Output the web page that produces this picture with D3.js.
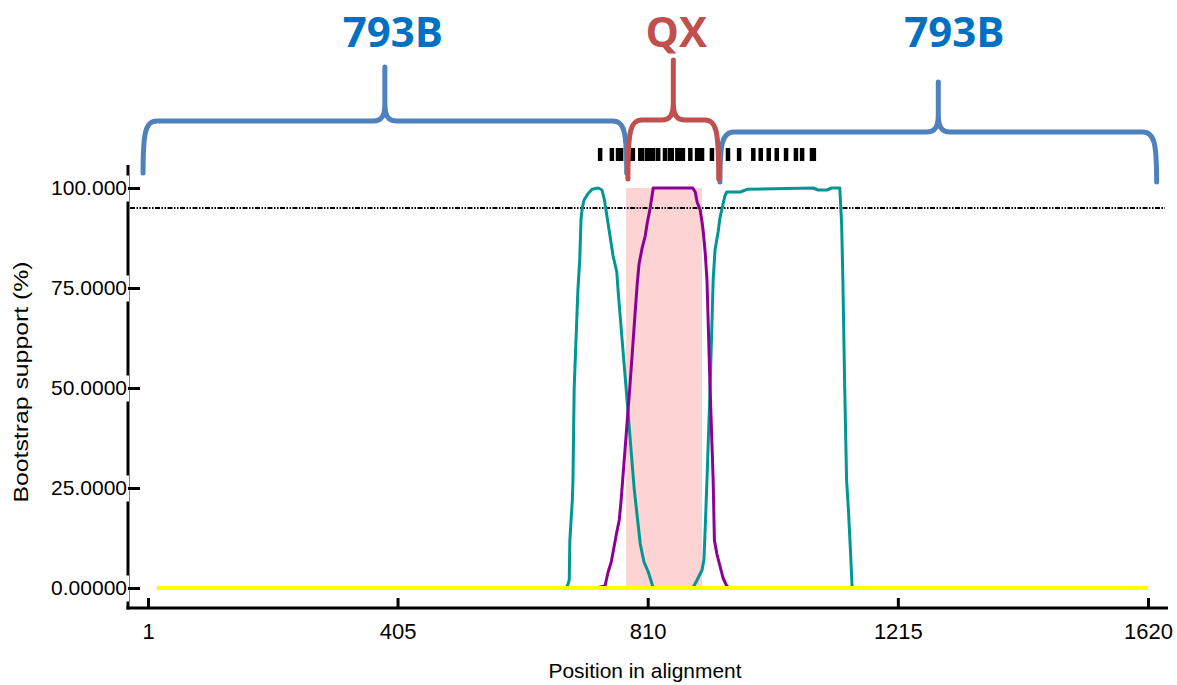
<!DOCTYPE html>
<html>
<head>
<meta charset="utf-8">
<script src="https://cdn.jsdelivr.net/npm/d3@7"></script>
<style>
  body { margin: 0; background: #fff; }
  svg { display: block; }
</style>
</head>
<body>
<script>
// axis ticks
var xTicks = [1, 405, 810, 1215, 1620];
var xTickLabels = ["1", "405", "810", "1215", "1620"];
var yTicks = [0, 25, 50, 75, 100];
var yTickLabels = ["0.00000", "25.0000", "50.0000", "75.0000", "100.000"];

// bootstrap support series (position in alignment, % support)
var tealPos = [17, 679, 683, 684, 688, 689, 691, 697, 700, 702, 704, 707, 713, 720, 730, 736, 740, 744, 749, 754, 760, 762, 775, 788, 793, 798, 804, 811, 819,
               883, 890, 898, 901, 903, 906, 911, 916, 919, 924, 927, 932, 935, 938, 960, 972, 1078, 1086, 1100, 1108, 1121, 1124, 1126, 1129, 1132, 1135, 1139, 1141, 1620];
var tealVal = [0, 0, 2, 12, 22, 27, 50, 74.5, 82, 92, 95, 97, 98.5, 99.7, 100, 99.5, 97, 93, 88, 83, 79, 74.5, 50, 25, 18, 11, 6.5, 4, 0,
               0, 2, 4.5, 7, 14.5, 27, 50, 77, 84.5, 89, 92.5, 96, 98, 99, 99, 99.7, 100, 99.5, 99.5, 100, 100, 91, 77, 50, 27, 19.5, 7, 0, 0];

var purplePos = [17, 726, 741, 743, 746, 751, 754, 757, 760, 764, 767, 769, 781, 793, 796, 801, 806, 809, 814, 819,
                 883, 887, 890, 895, 898, 900, 903, 906, 911, 916, 918, 922, 927, 932, 938, 942, 1620];
var purpleVal = [0, 0, 0.5, 2, 4, 6.5, 9, 11.5, 14, 17, 22, 26, 50, 76, 81, 85, 88, 91, 95, 100,
                 100, 99, 96.5, 94.5, 91.5, 89, 84, 77, 50, 27, 12, 8.5, 5.5, 2.5, 0.5, 0, 0];

var yellowPos = [17, 1620];
var yellowVal = [0, 0];

// cut-off and recombinant region
var threshold = 95;
var shadeStart = 775, shadeEnd = 898;

// informative sites shown above the plot
var sites = [733, 752, 762, 767, 781, 786, 798, 801, 809, 812, 819, 827, 838, 846, 849, 858, 861, 867, 879, 890, 892, 898,
             914, 940, 958, 981, 993, 1006, 1019, 1034, 1050, 1060, 1076, 1079];

// brace regions
var regionNames = ["793B", "QX", "793B"];
var regionStart = [-7, 778, 927];
var regionEnd = [776, 925, 1634];

var W = 1177, H = 685;
var svg = d3.select("body").append("svg").attr("width", W).attr("height", H);

var x = d3.scaleLinear().domain([1, 1620]).range([148, 1148]);
var y = d3.scaleLinear().domain([0, 100]).range([588, 188]);

// shaded region
svg.append("rect")
  .attr("x", x(shadeStart)).attr("y", y(100))
  .attr("width", x(shadeEnd) - x(shadeStart))
  .attr("height", y(0) - y(100))
  .attr("fill", "#fdd3d3");

// threshold line
svg.append("line")
  .attr("x1", 130).attr("x2", 1165)
  .attr("y1", y(threshold)).attr("y2", y(threshold))
  .attr("stroke", "#000").attr("stroke-width", 1.8)
  .attr("stroke-dasharray", "5,1.5,1.5,1.5,1.5,1.5");

var line = d3.line().x(function(d){ return x(d[0]); }).y(function(d){ return y(d[1]); });
function series(pos, val, color, w){
  svg.append("path")
    .datum(pos.map(function(p, i){ return [p, val[i]]; }))
    .attr("d", line)
    .attr("fill", "none")
    .attr("stroke", color)
    .attr("stroke-width", w)
    .attr("stroke-linejoin", "round");
}
series(tealPos, tealVal, "#009693", 3);
series(purplePos, purpleVal, "#8c0096", 3);
series(yellowPos, yellowVal, "#ffff00", 4);

// axis lines
svg.append("line").attr("x1", 128).attr("x2", 128).attr("y1", 165).attr("y2", 609.5)
  .attr("stroke", "#000").attr("stroke-width", 3);
svg.append("line").attr("x1", 126.5).attr("x2", 1168).attr("y1", 608).attr("y2", 608)
  .attr("stroke", "#000").attr("stroke-width", 3);

var yAxis = svg.append("g")
  .attr("transform", "translate(128,0)")
  .call(d3.axisLeft(y).tickValues(yTicks)
    .tickFormat(function(d, i){ return yTickLabels[i]; })
    .tickSizeInner(-12).tickSizeOuter(0).tickPadding(1));
yAxis.select(".domain").remove();
yAxis.selectAll(".tick").insert("rect", ":first-child")
  .attr("x", -80).attr("y", -13).attr("width", 81).attr("height", 26).attr("fill", "#fff");
yAxis.selectAll(".tick line").attr("stroke", "#000").attr("stroke-width", 3);
yAxis.selectAll(".tick text")
  .attr("font-family", "Liberation Sans, Arial, sans-serif")
  .attr("font-size", 21).attr("fill", "#000");

var xAxis = svg.append("g")
  .attr("transform", "translate(0,608)")
  .call(d3.axisBottom(x).tickValues(xTicks)
    .tickFormat(function(d, i){ return xTickLabels[i]; })
    .tickSizeInner(-10).tickSizeOuter(0).tickPadding(15));
xAxis.select(".domain").remove();
xAxis.selectAll(".tick line").attr("stroke", "#000").attr("stroke-width", 3);
xAxis.selectAll(".tick text")
  .attr("font-family", "Liberation Sans, Arial, sans-serif")
  .attr("font-size", 22).attr("fill", "#000");

// axis titles
svg.append("text")
  .attr("x", 645).attr("y", 678)
  .attr("text-anchor", "middle")
  .attr("font-family", "Liberation Sans, Arial, sans-serif")
  .attr("font-size", 21)
  .attr("textLength", 193).attr("lengthAdjust", "spacingAndGlyphs")
  .text("Position in alignment");
svg.append("text")
  .attr("transform", "translate(28,382) rotate(-90)")
  .attr("text-anchor", "middle")
  .attr("font-family", "Liberation Sans, Arial, sans-serif")
  .attr("font-size", 21)
  .attr("textLength", 241).attr("lengthAdjust", "spacingAndGlyphs")
  .text("Bootstrap support (%)");

// site marks
svg.selectAll("line.site")
  .data(sites)
  .enter().append("line")
  .attr("class", "site")
  .attr("x1", function(d){ return x(d); })
  .attr("x2", function(d){ return x(d); })
  .attr("y1", 148).attr("y2", 161)
  .attr("stroke", "#000").attr("stroke-width", 4.5);

// braces
var braceLayout = [
  {yh: 121, yt: 67, yb: 173, color: "#4f81bd", text: "#0070c0", dx: 8},
  {yh: 120, yt: 60, yb: 179, color: "#c0504d", text: "#c0504d", dx: 3},
  {yh: 132, yt: 82, yb: 182, color: "#4f81bd", text: "#0070c0", dx: 16}
];
function bracePath(xl, xr, L){
  var xc = (xl + xr) / 2, yh = L.yh;
  return "M" + xl + "," + L.yb +
    " C" + xl + "," + (yh + 12) + " " + (xl + 2) + "," + yh + " " + (xl + 14) + "," + yh +
    " L" + (xc - 12) + "," + yh +
    " C" + (xc - 3) + "," + yh + " " + xc + "," + (yh - 5) + " " + xc + "," + (yh - 18) +
    " L" + xc + "," + L.yt +
    " M" + xc + "," + (yh - 18) +
    " C" + xc + "," + (yh - 5) + " " + (xc + 3) + "," + yh + " " + (xc + 12) + "," + yh +
    " L" + (xr - 14) + "," + yh +
    " C" + (xr - 2) + "," + yh + " " + xr + "," + (yh + 12) + " " + xr + "," + L.yb;
}
[0, 2, 1].forEach(function(i){
  var L = braceLayout[i];
  var xl = x(regionStart[i]), xr = x(regionEnd[i]);
  svg.append("path")
    .attr("d", bracePath(xl, xr, L))
    .attr("fill", "none")
    .attr("stroke", L.color)
    .attr("stroke-width", 5)
    .attr("stroke-linecap", "round")
    .attr("stroke-linejoin", "round");
  svg.append("text")
    .attr("x", (xl + xr) / 2 + L.dx).attr("y", 47)
    .attr("text-anchor", "middle")
    .attr("font-family", "Open Sans, sans-serif")
    .attr("font-weight", "bold")
    .attr("font-size", 42)
    .attr("fill", L.text)
    .text(regionNames[i]);
});
</script>
</body>
</html>
